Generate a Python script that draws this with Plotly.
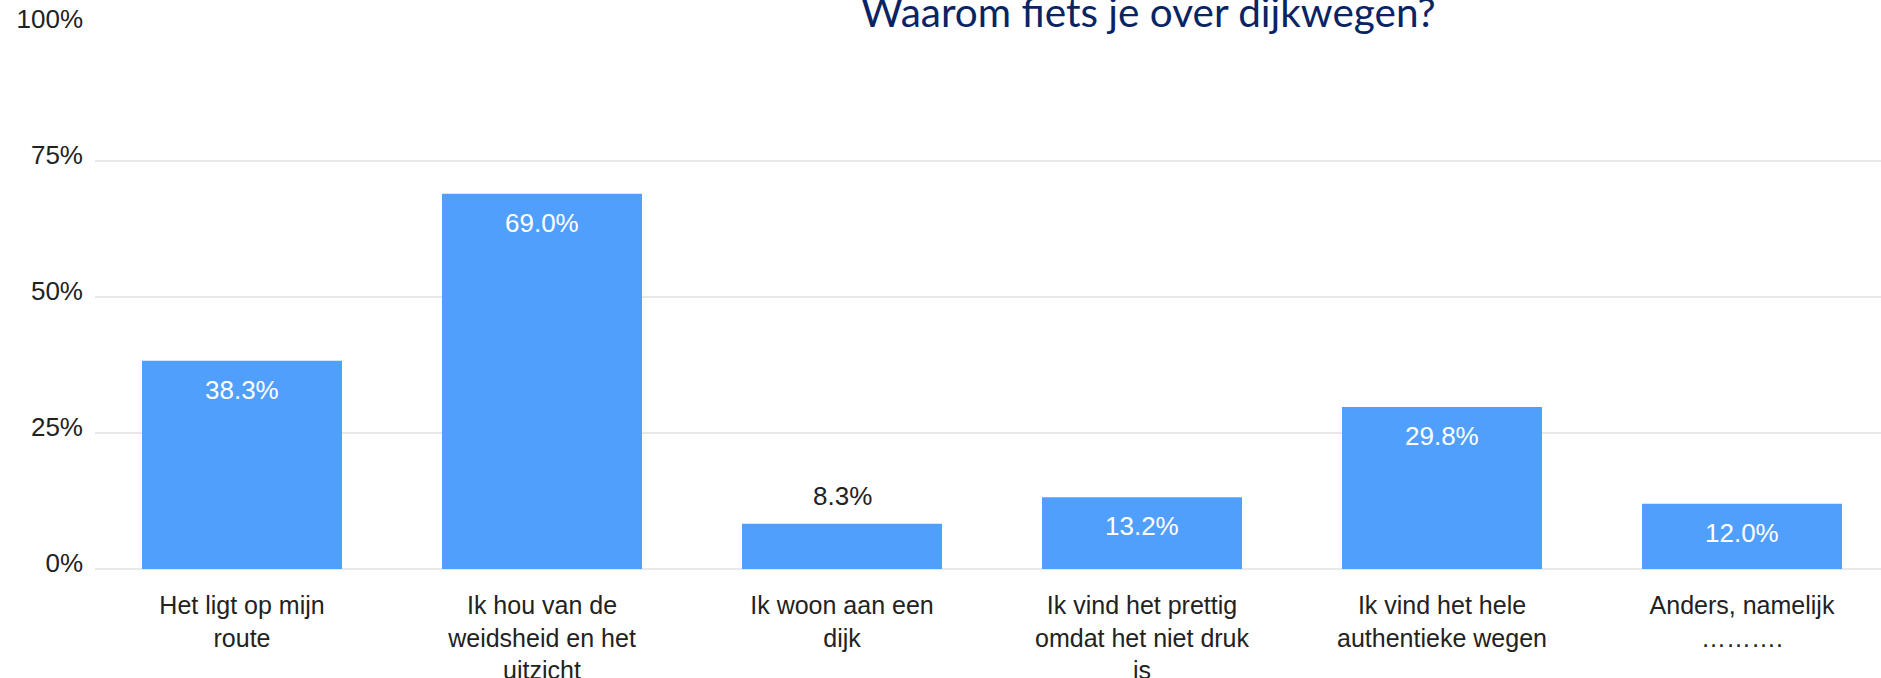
import plotly.graph_objects as go

categories = [
    "Het ligt op mijn<br>route",
    "Ik hou van de<br>weidsheid en het<br>uitzicht",
    "Ik woon aan een<br>dijk",
    "Ik vind het prettig<br>omdat het niet druk<br>is",
    "Ik vind het hele<br>authentieke wegen",
    "Anders, namelijk<br>……….",
]
values = [38.3, 69.0, 8.3, 13.2, 29.8, 12.0]
y_ticks = [0, 25, 50, 75, 100]
y_tick_labels = ["0%", "25%", "50%", "75%", "100%"]
title_text = "Waarom fiets je over dijkwegen?"

W, H = 1881, 678
ML, MR, MT, MB = 95, 0, 25, 109
BAR_COLOR = "#519ffd"
FONT = "Arial, 'Liberation Sans', sans-serif"

fig = go.Figure()
fig.add_trace(go.Bar(
    x=list(range(len(categories))),
    y=values,
    marker=dict(color=BAR_COLOR, line=dict(width=0)),
    hoverinfo="skip",
))

annotations = []
for i, v in enumerate(values):
    inside = v >= 10
    annotations.append(dict(
        x=i, y=v, xref="x", yref="y",
        text=f"{v:.1f}%",
        showarrow=False,
        yanchor="middle",
        yshift=-29 if inside else 28,
        font=dict(family=FONT, size=26, color="#ffffff" if inside else "#222222"),
    ))

annotations.append(dict(
    x=0.590, y=1, xref="paper", yref="paper",
    xanchor="center", yanchor="bottom", yshift=-13,
    text=title_text, showarrow=False,
    font=dict(family="Lato, 'Open Sans', sans-serif", size=40.5, color="#0a2463"),
))

px_per_cat = 300.0
left_val = -(242 - ML) / px_per_cat
right_val = left_val + (W - ML - MR) / px_per_cat

fig.update_layout(
    width=W, height=H,
    margin=dict(l=ML, r=MR, t=MT, b=MB, pad=0, autoexpand=False),
    paper_bgcolor="white", plot_bgcolor="white",
    showlegend=False,
    bargap=1/3,
    annotations=annotations,
    xaxis=dict(
        automargin=False,
        range=[left_val, right_val],
        tickmode="array",
        tickvals=list(range(len(categories))),
        ticktext=categories,
        showgrid=False, zeroline=False, showline=False,
        ticks="",
        ticklabelstandoff=19,
        tickfont=dict(family=FONT, size=25, color="#222222"),
    ),
    yaxis=dict(
        automargin=False,
        range=[0, 100],
        tickmode="array",
        tickvals=y_ticks,
        ticktext=y_tick_labels,
        showgrid=True, gridcolor="#e8e8e8", gridwidth=1.5,
        zeroline=True, zerolinecolor="#e8e8e8", zerolinewidth=1.5,
        showline=False, ticks="",
        ticklabelstandoff=11,
        ticklabelshift=-6,
        tickfont=dict(family=FONT, size=26, color="#222222"),
    ),
)

fig.write_html(
    "out.html",
    config={"displayModeBar": False},
    post_script="document.body.style.margin='0';document.body.style.overflow='hidden';",
)
